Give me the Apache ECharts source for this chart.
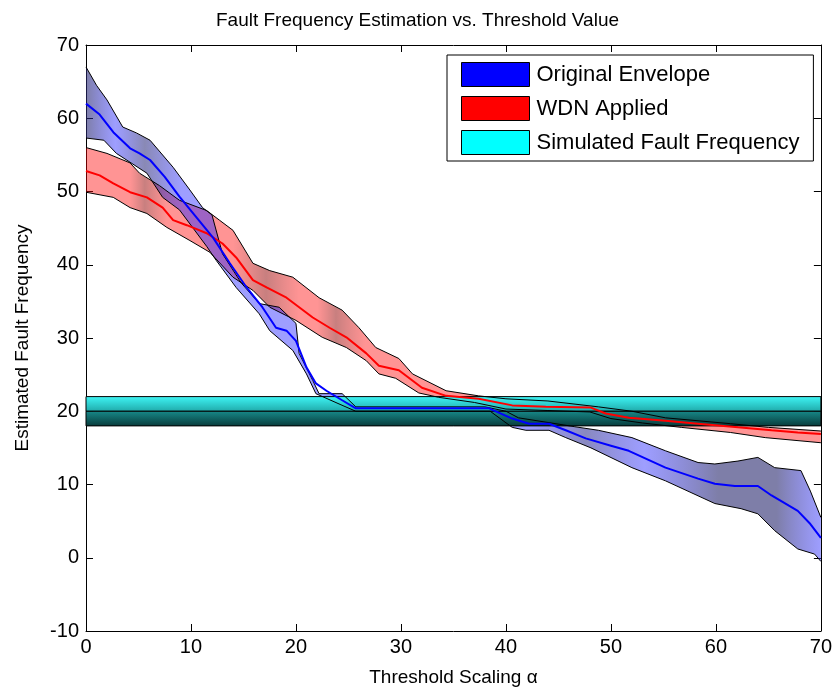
<!DOCTYPE html>
<html>
<head>
<meta charset="utf-8">
<script src="https://cdn.jsdelivr.net/npm/echarts@6/dist/echarts.min.js"></script>
<style>
  html, body { margin: 0; padding: 0; background: #fff; }
  #chart { width: 835px; height: 696px; }
</style>
</head>
<body>
<div id="chart"></div>
<script>
// --- data ---
const xTicks = [0, 10, 20, 30, 40, 50, 60, 70];
const yTicks = [-10, 0, 10, 20, 30, 40, 50, 60, 70];

const blueCenter = [[0,62],[1.3,60.5],[2.6,58.1],[4.2,55.9],[5.1,55.2],[6.1,54.3],[7.5,52],[8.9,49.3],[10.5,46.5],[12.1,43.7],[13.7,40.2],[15.3,36.9],[16.8,34.2],[18.1,31.4],[19.1,31],[20,29.6],[21,26],[21.9,23.8],[22.9,22.8],[24.4,21.5],[25.7,20.4],[38.4,20.4],[40.6,19],[42.2,18.3],[44.1,18.3],[45.7,17.4],[47.6,16.3],[50,15.3],[51.7,14.6],[55.2,12.3],[58.3,10.8],[59.9,10.1],[61.8,9.8],[64,9.8],[65.3,8.5],[67.8,6.4],[69,4.6],[70,2.7]];
const blueUpper = [[0,67],[1,64.5],[2,62.5],[3.5,58.8],[4.8,58],[6.1,57],[8.3,53.3],[9.9,50.2],[11.1,47.8],[12,46.8],[13,41.5],[14.8,37.5],[16.5,34.7],[18.4,34.2],[20,32],[20.3,27.9],[21.6,24.2],[22.2,22.4],[24.4,22.4],[25.7,20.6],[38,20.6],[40,20],[41.2,19.1],[44.3,18.4],[46.5,17.9],[48.8,17.4],[52,16.4],[55.2,14.6],[58.3,13],[59.9,12.8],[62.1,13.2],[64,13.7],[65.6,12.3],[68.1,11.9],[69,9.1],[70,5.5]];
const blueLower = [[0,57.3],[1.7,57],[2.9,55.2],[5.8,52.5],[7.3,49.2],[8.9,47.5],[11.5,42.5],[12.4,40.6],[14.3,36.9],[16.5,33.3],[17.5,31],[19.7,28.3],[21,25.1],[21.9,22.4],[24.1,21],[25.7,20],[38.5,20],[40.6,17.8],[41.9,17.4],[44.1,17.4],[45.7,16.4],[48.1,15],[52,12.3],[55.2,10.5],[59.9,7.4],[62.4,6.7],[64,6],[65.6,3.7],[67.8,1.2],[69.4,0.5],[70,-0.5]];

const redCenter = [[0,52.8],[1.3,52.2],[2.6,51.1],[4.2,49.9],[5.8,49.2],[7.3,47.8],[8.3,46.1],[9.6,45.4],[11.5,44.3],[13,42.9],[14.3,41],[15.9,37.9],[17.2,36.9],[19.1,35.5],[21.6,32.8],[23.2,31.4],[24.8,30.1],[26.7,27.9],[27.9,26.2],[29.8,25.6],[32,23.2],[34.3,22.1],[37.4,21.7],[40.6,20.8],[43.8,20.6],[48.1,20.5],[49.5,19.7],[51.7,19.1],[55.2,18.7],[58.3,18.3],[62.1,17.8],[65.3,17.4],[67.8,17.1],[70,16.9]];
const redUpper = [[0,56],[2,55.2],[4.2,53.9],[5.1,52.5],[7,50.8],[8.9,48.8],[11.5,47.4],[12.7,46.1],[14,44.7],[15.9,40.2],[17.5,39.2],[19.7,38.3],[22.2,35.5],[24.4,33.8],[26,31.4],[27.6,28.7],[29.8,27.2],[31.1,25.1],[34.3,22.8],[37.4,22.1],[40,21.7],[44,21.4],[48.8,20.6],[52,20],[55.2,19.1],[61.4,18.3],[65,17.8],[70,17.3]];
const redLower = [[0,49.9],[2.6,49.2],[4.2,47.8],[5.8,47],[7.7,45.1],[9.9,43.3],[11.8,41.7],[14,38.3],[15.9,36.5],[17.5,34.2],[20,32.4],[22.5,30.1],[24.8,28.7],[26.7,26.9],[27.9,25.1],[29.5,24.5],[31.7,22.5],[33.6,21.9],[37,21.2],[40,20.3],[44,20.1],[48,19.9],[50,19],[53,18.4],[56.7,17.8],[61.4,17.1],[64.7,16.4],[70,15.7]];

// simulated fault frequency band: low, centre, high
const simFault = [18, 20, 22];

const chart = echarts.init(document.getElementById('chart'));

// shading along x, offsets are fractions of the 0..70 range
const blueShade = [
  [0, 'rgba(40,40,110,0.6)'], [0.04, 'rgba(40,40,255,0.45)'], [0.08, 'rgba(40,40,120,0.55)'],
  [0.13, 'rgba(40,40,255,0.45)'], [0.6, 'rgba(40,40,255,0.45)'], [0.68, 'rgba(40,40,140,0.55)'],
  [0.76, 'rgba(40,40,255,0.45)'], [0.86, 'rgba(40,40,110,0.6)'], [0.94, 'rgba(40,40,110,0.6)'],
  [1, 'rgba(40,40,255,0.45)']
];
const redShade = [
  [0, 'rgba(255,0,0,0.42)'], [0.06, 'rgba(255,0,0,0.42)'], [0.08, 'rgba(145,0,0,0.5)'],
  [0.11, 'rgba(255,0,0,0.42)'], [0.2, 'rgba(255,0,0,0.42)'], [0.245, 'rgba(145,0,0,0.5)'],
  [0.29, 'rgba(255,0,0,0.42)'], [0.315, 'rgba(255,0,0,0.42)'], [0.34, 'rgba(145,0,0,0.5)'],
  [0.38, 'rgba(255,0,0,0.42)'], [1, 'rgba(255,0,0,0.42)']
];

function bandRender(upper, lower, shade) {
  return function (params, api) {
    if (params.dataIndex !== 0) return null;
    const pts = upper.map(p => api.coord(p))
      .concat(lower.slice().reverse().map(p => api.coord(p)));
    const x0 = api.coord([0, 0])[0];
    const x1 = api.coord([70, 0])[0];
    return {
      type: 'polygon',
      shape: { points: pts },
      style: {
        fill: { type: 'linear', x: x0, y: 0, x2: x1, y2: 0, global: true,
          colorStops: shade.map(s => ({ offset: s[0], color: s[1] })) }
      }
    };
  };
}

function simRender(params, api) {
  const tl = api.coord([0, api.value(2)]);
  const mid = api.coord([70, api.value(1)]);
  const br = api.coord([70, api.value(0)]);
  return {
    type: 'group',
    children: [
      { type: 'rect', shape: { x: tl[0], y: tl[1], width: br[0] - tl[0], height: mid[1] - tl[1] },
        style: { fill: { type: 'linear', x: 0, y: 0, x2: 0, y2: 1,
          colorStops: [{ offset: 0, color: '#3ff6f6' }, { offset: 1, color: '#1fa8a8' }] },
          stroke: '#000', lineWidth: 1 } },
      { type: 'rect', shape: { x: tl[0], y: mid[1], width: br[0] - tl[0], height: br[1] - mid[1] },
        style: { fill: { type: 'linear', x: 0, y: 0, x2: 0, y2: 1,
          colorStops: [{ offset: 0, color: '#178a8a' }, { offset: 1, color: '#083a3a' }] },
          stroke: '#000', lineWidth: 1 } }
    ]
  };
}

function edge(data, z) {
  return { type: 'line', data: data, symbol: 'none', silent: true, z: z,
    lineStyle: { color: '#000', width: 1 } };
}
function centre(data, color) {
  return { type: 'line', data: data, symbol: 'none', silent: true, z: 6,
    lineStyle: { color: color, width: 2 } };
}

const axisFont = { fontFamily: 'Liberation Sans', fontSize: 20, color: '#000' };
const nameFont = { fontFamily: 'Liberation Sans', fontSize: 19, color: '#000' };
const boxLine = { onZero: false, show: true, lineStyle: { color: '#000', width: 1 } };
const boxTick = { show: true, inside: true, length: 7, lineStyle: { color: '#000' } };

const option = {
  animation: false,
  backgroundColor: '#fff',
  title: {
    text: 'Fault Frequency Estimation vs. Threshold Value',
    left: 'center', top: 6,
    textStyle: { fontFamily: 'Liberation Sans', fontSize: 19, fontWeight: 'normal', color: '#000' }
  },
  legend: {
    data: ['Original Envelope', 'WDN Applied', 'Simulated Fault Frequency'],
    orient: 'vertical', left: 447, top: 55,
    backgroundColor: '#fff', borderColor: '#000', borderWidth: 1,
    padding: [7, 14, 6, 14], itemGap: 9,
    itemWidth: 68, itemHeight: 24, icon: 'rect',
    itemStyle: { borderColor: '#000', borderWidth: 1 },
    textStyle: { fontFamily: 'Liberation Sans', fontSize: 22, color: '#000', padding: [0, 0, 0, 2] },
    selectedMode: false
  },
  grid: { left: 86, right: 12, top: 45, bottom: 65 },
  xAxis: [
    { type: 'value', min: 0, max: 70, interval: 10,
      name: 'Threshold Scaling \u03b1', nameLocation: 'middle', nameGap: 37,
      nameTextStyle: nameFont,
      axisLine: boxLine, axisTick: boxTick,
      axisLabel: Object.assign({ margin: 6 }, axisFont),
      splitLine: { show: false } },
    { type: 'value', min: 0, max: 70, interval: 10, position: 'top',
      axisLine: boxLine, axisTick: boxTick,
      axisLabel: { show: false }, splitLine: { show: false } }
  ],
  yAxis: [
    { type: 'value', min: -10, max: 70, interval: 10,
      name: 'Estimated Fault Frequency', nameLocation: 'middle', nameGap: 54,
      nameTextStyle: nameFont,
      axisLine: boxLine, axisTick: boxTick,
      axisLabel: Object.assign({ margin: 7 }, axisFont),
      splitLine: { show: false } },
    { type: 'value', min: -10, max: 70, interval: 10, position: 'right',
      axisLine: boxLine, axisTick: boxTick,
      axisLabel: { show: false }, splitLine: { show: false } }
  ],
  series: [
    { name: 'WDN Applied', type: 'custom', z: 1, data: redUpper, silent: true,
      itemStyle: { color: '#ff0000' }, renderItem: bandRender(redUpper, redLower, redShade) },
    { name: 'Original Envelope', type: 'custom', z: 2, data: blueUpper, silent: true,
      itemStyle: { color: '#0000ff' }, renderItem: bandRender(blueUpper, blueLower, blueShade) },
    { name: 'Simulated Fault Frequency', type: 'custom', z: 3, data: [simFault], silent: true,
      itemStyle: { color: '#00ffff' }, renderItem: simRender },
    edge(redUpper, 4), edge(redLower, 4), edge(blueUpper, 4), edge(blueLower, 4),
    centre(redCenter, '#ff0000'),
    centre(blueCenter, '#0000ff')
  ]
};

chart.setOption(option);
</script>
</body>
</html>
